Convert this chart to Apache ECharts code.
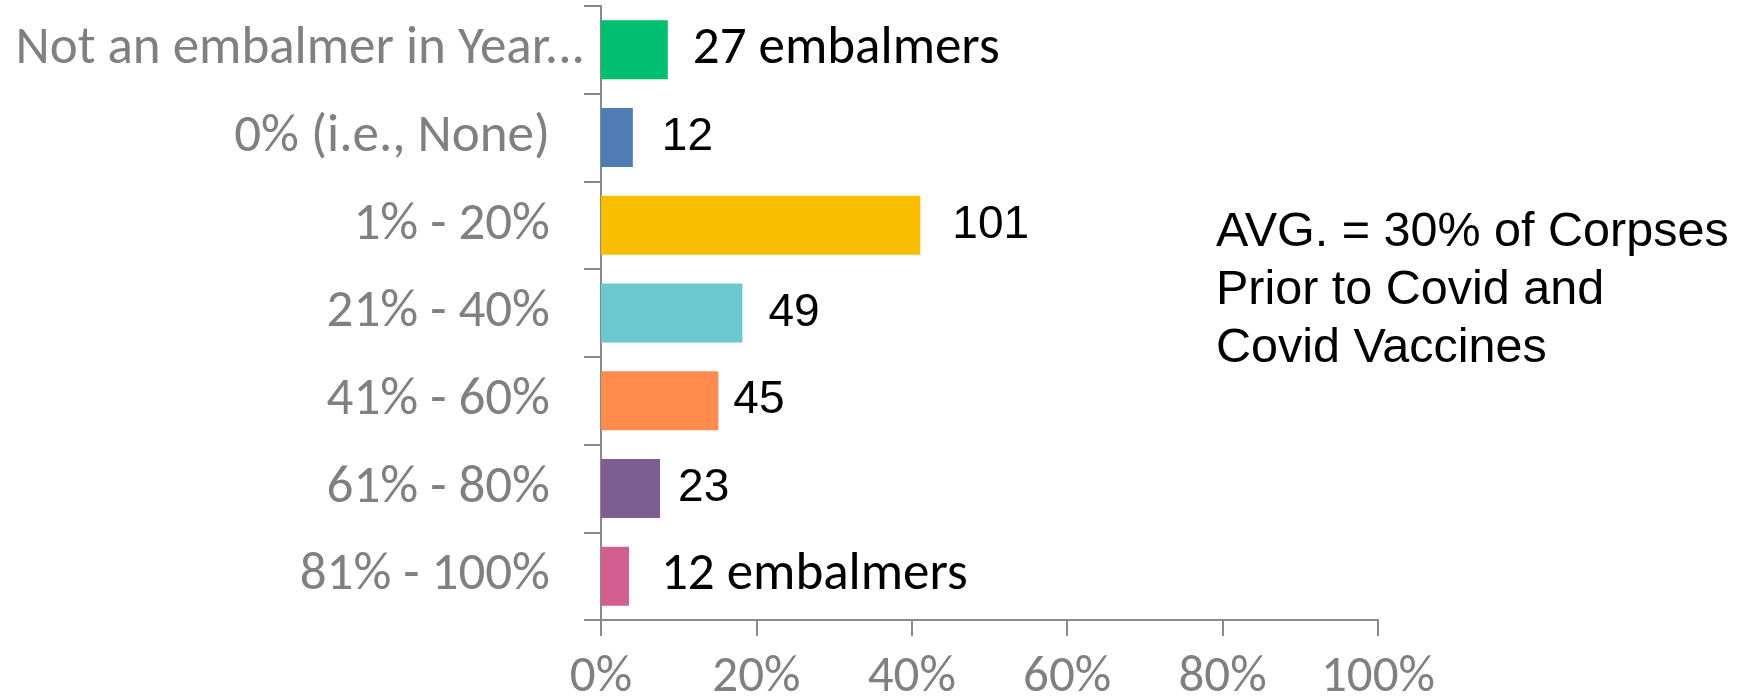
<!DOCTYPE html>
<html>
<head>
<meta charset="utf-8">
<script src="https://cdn.jsdelivr.net/npm/echarts@6/dist/echarts.min.js"></script>
<style>
  html, body { margin: 0; padding: 0; background: #ffffff; }
  #chart { width: 1750px; height: 700px; }
</style>
</head>
<body>
<div id="chart"></div>
<script>
// ---- data ----
const categories = [
  "Not an embalmer in Year...",
  "0% (i.e., None)",
  "1% - 20%",
  "21% - 40%",
  "41% - 60%",
  "61% - 80%",
  "81% - 100%"
];
const sharePercent = [8.6, 4.1, 41.1, 18.2, 15.1, 7.6, 3.6];
const embalmerCounts = [27, 12, 101, 49, 45, 23, 12];
const countSuffix = [" embalmers", "", "", "", "", "", " embalmers"];
const barColors = ["#00BF6F", "#507CB6", "#F9BE00", "#6BC8CD", "#FF8B4F", "#7D5E90", "#D25F90"];
const xTickValues = [0, 20, 40, 60, 80, 100];
const noteLines = ["AVG. = 30% of Corpses", "Prior to Covid and", "Covid Vaccines"];

// label gap (style only)
const labelGaps = [25, 29, 32, 26, 15, 18, 32];

const calibriLike = "Carlito, Lato, 'Noto Sans', sans-serif";
const arialLike = "'Liberation Sans', Arial, sans-serif";

const chart = echarts.init(document.getElementById('chart'), null, { renderer: 'canvas' });

const seriesData = sharePercent.map((v, i) => ({
  value: v,
  itemStyle: { color: barColors[i] },
  label: { distance: labelGaps[i] }
}));

const option = {
  backgroundColor: '#ffffff',
  animation: false,
  grid: { left: 601, right: 372, top: 6, bottom: 80, containLabel: false, outerBoundsMode: 'none' },
  xAxis: {
    type: 'value',
    min: 0, max: 100, interval: 20,
    axisLine: { show: true, lineStyle: { color: '#898989', width: 2 } },
    axisTick: { show: true, length: 16, lineStyle: { color: '#898989', width: 2 } },
    splitLine: { show: false },
    axisLabel: {
      margin: 33,
      color: '#808080',
      fontFamily: calibriLike,
      fontSize: 51,
      formatter: v => xTickValues.includes(v) ? v + '%' : ''
    }
  },
  yAxis: {
    type: 'category',
    inverse: true,
    data: categories,
    axisLine: { show: true, lineStyle: { color: '#898989', width: 2 } },
    axisTick: { show: true, length: 17, lineStyle: { color: '#898989', width: 2 } },
    axisLabel: {
      margin: 16,
      color: '#808080',
      fontFamily: calibriLike,
      fontSize: 53,
      formatter: (v, i) => i === 0 ? '{a|' + v + '}' : '{b|' + v + '}',
      rich: {
        a: { color: '#808080', fontFamily: calibriLike, fontSize: 53 },
        b: { color: '#808080', fontFamily: calibriLike, fontSize: 53, padding: [0, 35, 0, 0] }
      }
    }
  },
  series: [{
    type: 'bar',
    data: seriesData,
    barWidth: 59,
    label: {
      show: true,
      position: 'right',
      formatter: p => countSuffix[p.dataIndex]
        ? '{c|' + embalmerCounts[p.dataIndex] + countSuffix[p.dataIndex] + '}'
        : '{n|' + embalmerCounts[p.dataIndex] + '}',
      rich: {
        c: { color: '#000000', fontFamily: calibriLike, fontSize: 53 },
        n: { color: '#000000', fontFamily: arialLike, fontSize: 46 }
      }
    }
  }],
  graphic: [{
    type: 'text',
    left: 1216,
    top: 204,
    style: {
      text: noteLines.join('\n'),
      fill: '#000000',
      font: '48.5px ' + arialLike,
      lineHeight: 58
    }
  }]
};

chart.setOption(option);
</script>
</body>
</html>
